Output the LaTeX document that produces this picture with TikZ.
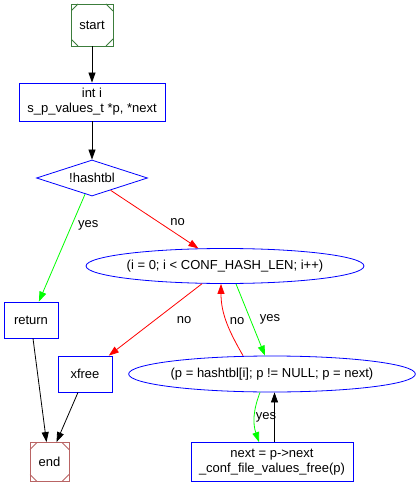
\documentclass[tikz,border=0pt]{standalone}
\usepackage{fontspec}
\setmainfont{Liberation Sans}
\usepackage{tikz}
\usetikzlibrary{%
  positioning
 ,arrows.meta
 ,shapes.geometric
}
\definecolor{startgreen}{RGB}{60,125,60}
\definecolor{endbrown}{RGB}{185,100,100}
\tikzstyle{flow}=[on grid,line width=0.8pt,>={Triangle[length=10pt,width=7pt]},font=\fontsize{13pt}{15pt}\selectfont]
\tikzstyle{blk}=[rectangle,draw=blue,align=center,inner sep=0pt]
\tikzstyle{cond}=[diamond,aspect=3.08,draw=blue,inner sep=0pt,minimum width=111pt,minimum height=36pt]
\tikzstyle{loopst}=[ellipse,draw=blue,inner sep=0pt]
\tikzstyle{lbl}=[inner sep=1pt,text=black]
\tikzset{term/.style={rectangle,draw=#1,minimum size=42pt,inner sep=0pt,
  path picture={
    \draw[#1] ([yshift=-7pt]path picture bounding box.north west) -- ([xshift=7pt]path picture bounding box.north west);
    \draw[#1] ([yshift=-7pt]path picture bounding box.north east) -- ([xshift=-7pt]path picture bounding box.north east);
    \draw[#1] ([yshift=7pt]path picture bounding box.south west) -- ([xshift=7pt]path picture bounding box.south west);
    \draw[#1] ([yshift=7pt]path picture bounding box.south east) -- ([xshift=-7pt]path picture bounding box.south east);
  }}}

\begin{document}
\begin{tikzpicture}[flow]
  \useasboundingbox (-92pt,25pt) rectangle (326pt,-461pt);
  \node[term=startgreen] (start) at (0,0) {start};
  \node[blk,minimum width=146pt,minimum height=38pt] (decl) [below=77pt of start] {int i\\s\_p\_values\_t *p, *next};
  \node[cond]  (hash)  [below=76pt of decl] {!hashtbl};
  \node[loopst,minimum width=277pt,minimum height=35pt] (loop1) [below right=88pt and 133pt of hash] {(i = 0; i < CONF\_HASH\_LEN; i++)};
  \node[blk,minimum width=54pt,minimum height=36pt] (ret) [below left=142pt and 61pt of hash] {return};
  \node[loopst,minimum width=285pt,minimum height=36pt] (loop2) [below right=108pt and 47pt of loop1] {(p = hashtbl[i]; p != NULL; p = next)};
  \node[blk,minimum width=54pt,minimum height=36pt] (xfree) [left=187pt of loop2] {xfree};
  \node[blk,minimum width=162pt,minimum height=39pt] (body) [below=88pt of loop2] {next = p->next\\\_conf\_file\_values\_free(p)};
  \node[term=endbrown,minimum size=39pt] (end) [below left=88pt and 35.5pt of xfree] {end};
%
  \path[->]
  (start) edge (decl)
  (decl)  edge (hash)
  (hash)  edge[green] node[lbl,pos=0.29,right=5pt] {yes} (ret)
  (hash)  edge[red]   node[lbl,pos=0.54,right=11pt] {no} (loop1)
  (loop1) edge[red]   node[lbl,pos=0.5,right=20pt] {no} (xfree)
  ([xshift=11pt]loop1.south) edge[green] node[lbl,right=8pt] {yes} ([xshift=-7pt]loop2.north)
  ([xshift=-29pt]loop2.north) edge[red,out=120,in=-90] node[lbl,right=2pt] {no} ([xshift=-4pt]loop1.south)
  ([xshift=-12pt]loop2.south) edge[green,bend right=20] node[lbl,right=0pt] {yes} ([xshift=-13pt]body.north)
  ([xshift=2.5pt]body.north) edge ([xshift=2.5pt]loop2.south)
  ([xshift=2pt]ret.south) edge ([xshift=-3pt]end.north)
  ([xshift=-7pt]xfree.south) edge ([xshift=7pt]end.north);
\end{tikzpicture}
\end{document}
